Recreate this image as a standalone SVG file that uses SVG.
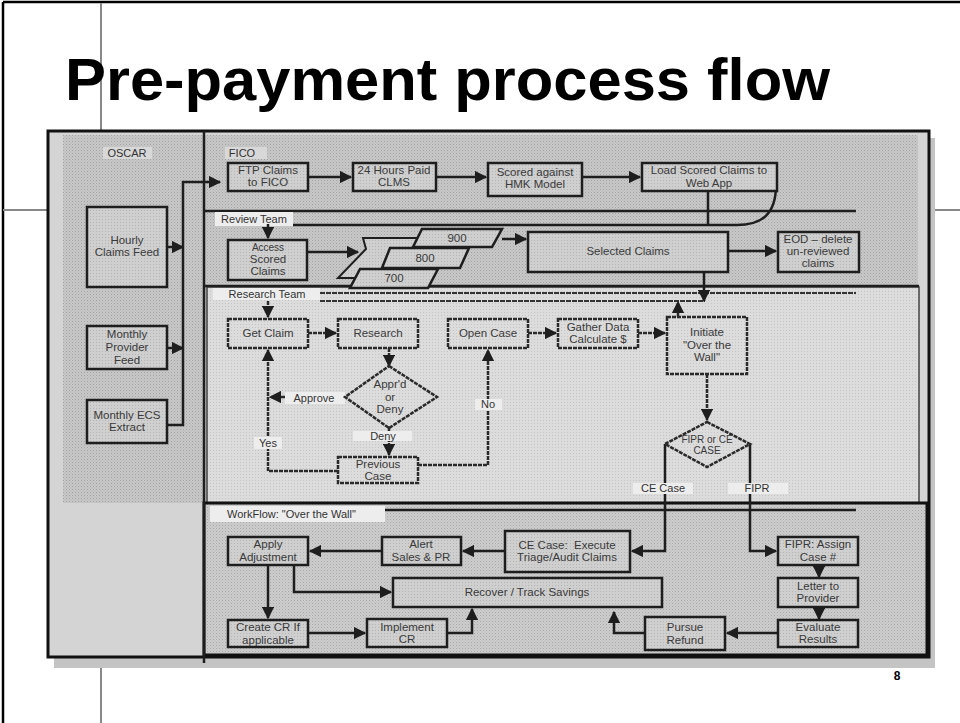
<svg xmlns="http://www.w3.org/2000/svg" width="960" height="723" viewBox="0 0 960 723">
<defs>
<pattern id="pDark" width="3" height="3" patternUnits="userSpaceOnUse"><rect width="3" height="3" fill="#c8c8c8"/><rect width="1" height="1" fill="#a2a2a2"/><rect x="1.5" y="1.5" width="1" height="1" fill="#b2b2b2"/></pattern>
<pattern id="pRes" width="3" height="3" patternUnits="userSpaceOnUse"><rect width="3" height="3" fill="#dcdcdc"/><rect width="1" height="1" fill="#c4c4c4"/></pattern>
<pattern id="pWork" width="3" height="3" patternUnits="userSpaceOnUse"><rect width="3" height="3" fill="#cdcdcd"/><rect width="1" height="1" fill="#a8a8a8"/><rect x="1.5" y="1.5" width="1" height="1" fill="#b8b8b8"/></pattern>
<pattern id="pBox" width="3" height="3" patternUnits="userSpaceOnUse"><rect width="3" height="3" fill="#cfcfcf"/><rect width="1" height="1" fill="#b4b4b4"/></pattern>
<marker id="ah" viewBox="0 0 10 10" refX="9" refY="5" markerWidth="5" markerHeight="5" orient="auto" markerUnits="strokeWidth"><path d="M0,0 L10,5 L0,10 z" fill="#1e1e1e"/></marker>
<style>
.t{font-family:"Liberation Sans",Arial,sans-serif;font-size:11.5px;fill:#3a3a3a;text-anchor:middle;dominant-baseline:central}
.lt{font-family:"Liberation Sans",Arial,sans-serif;font-size:11px;fill:#333;text-anchor:middle;dominant-baseline:central}
.box{fill:url(#pBox);stroke:#1e1e1e;stroke-width:2.5}
.dbox{fill:url(#pRes);stroke:#2a2a2a;stroke-width:2.5;stroke-dasharray:4 1}
.lbl{fill:#ededed}
.c{fill:none;stroke:#1e1e1e;stroke-width:2.5;marker-end:url(#ah)}
.cd{fill:none;stroke:#2a2a2a;stroke-width:2.5;stroke-dasharray:4 1;marker-end:url(#ah)}
.ln{fill:none;stroke:#1e1e1e;stroke-width:2.5}
.slide{stroke:#888;stroke-width:2;fill:none}
</style>
</defs>
<rect width="960" height="723" fill="#ffffff"/>
<g id="slide">
<path d="M3,2 L960,2 M3,2 L3,723" stroke="#000" stroke-width="2.5" fill="none"/>
<path class="slide" d="M101,3 L101,131 M101,668 L101,723 M3,210 L48,210 M935,210 L960,210"/>
<text x="65" y="100" font-family="Liberation Sans,Arial,sans-serif" font-weight="bold" font-size="60" textLength="765" lengthAdjust="spacingAndGlyphs" fill="#000">Pre-payment process flow</text>
<text x="897" y="680" font-family="Liberation Sans,Arial,sans-serif" font-weight="bold" font-size="12" fill="#000" text-anchor="middle">8</text>
</g>
<g id="frame">
<rect x="54" y="138" width="881" height="530" fill="#c4c4c4"/>
<rect x="48" y="131" width="881" height="526" fill="#d4d4d4"/>
<rect x="63" y="135" width="855" height="368" fill="url(#pDark)"/>
<rect x="207" y="287" width="712" height="216" fill="url(#pRes)" stroke="#444" stroke-width="1.5"/>
<rect x="204" y="503" width="723" height="152" fill="url(#pWork)" stroke="#111" stroke-width="3"/>
<rect x="48" y="131" width="881" height="526" fill="none" stroke="#111" stroke-width="3"/>
<path class="ln" d="M204,131 L204,663"/>
<path class="ln" d="M204,211 L856,211" stroke-width="2"/>
<path class="ln" d="M293,225 L737,225" stroke-width="2"/>
<path class="ln" d="M204,286 L919,286"/>
<path d="M320,293 L856,293" stroke="#333" stroke-width="2" stroke-dasharray="5 1" fill="none"/>
<path d="M320,301 L705,301" stroke="#333" stroke-width="2" stroke-dasharray="5 1" fill="none"/>
<path class="ln" d="M385,510 L856,510" stroke-width="2"/>
<rect x="103" y="147" width="49" height="12" fill="#d8d8d8"/><text class="lt" x="127" y="153">OSCAR</text>
<rect x="225" y="147" width="42" height="12" fill="#d8d8d8"/><text class="lt" x="242" y="153">FICO</text>
<rect class="lbl" x="215" y="212" width="78" height="14"/><text class="lt" x="254" y="219">Review Team</text>
<rect class="lbl" x="213" y="288" width="107" height="12"/><text class="lt" x="267" y="294">Research Team</text>
<rect class="lbl" x="210" y="506" width="175" height="16"/><text class="lt" x="227" y="514" style="text-anchor:start">WorkFlow: "Over the Wall"</text>
</g>
<g id="connectors">
<path class="c" d="M167,247 L183,247"/>
<path class="c" d="M167,348 L183,348"/>
<path class="c" d="M167,425 L183,425 L183,182 L220,182"/>
<path class="c" d="M308,177 L351,177"/>
<path class="c" d="M436,177 L486,177"/>
<path class="c" d="M582,177 L640,177"/>
<path class="ln" d="M708,191 L708,225 M776,185 C776,214 762,225 737,225" stroke-width="2"/>
<path class="c" d="M268,224 L268,238"/>
<path class="c" d="M307,252 L358,252"/>
<path class="c" d="M502,239 L526,239"/>
<path class="c" d="M728,251 L776,251"/>
<path class="c" d="M704,272 L704,301"/>
<path class="cd" d="M678,317 L678,302"/>
<path class="cd" d="M268,301 L268,317"/>
<path class="cd" d="M308,333 L336,333"/>
<path class="cd" d="M389,348 L389,366"/>
<path class="cd" d="M389,428 L389,455"/>
<path class="cd" d="M345,397 L270,397"/>
<path class="cd" d="M338,471 L268,471 L268,350"/>
<path class="cd" d="M418,465 L488,465 L488,350"/>
<path class="cd" d="M528,333 L556,333"/>
<path class="cd" d="M638,333 L665,333"/>
<path class="cd" d="M707,374 L707,420"/>
<path class="c" d="M665,444 L665,551 L632,551"/>
<path class="c" d="M750,444 L750,551 L776,551"/>
<path class="c" d="M505,551 L463,551"/>
<path class="c" d="M382,551 L310,551"/>
<path class="c" d="M268,565 L268,618"/>
<path class="c" d="M294,565 L294,592 L391,592"/>
<path class="c" d="M308,633 L365,633"/>
<path class="c" d="M447,633 L472,633 L472,609"/>
<path class="c" d="M645,633 L614,633 L614,612"/>
<path class="c" d="M778,633 L727,633"/>
<path class="c" d="M819,565 L819,577"/>
<path class="c" d="M819,607 L819,619"/>
<rect class="lbl" x="285" y="392" width="60" height="12"/><text class="lt" x="314" y="398">Approve</text>
<rect class="lbl" x="254" y="437" width="28" height="12"/><text class="lt" x="268" y="443">Yes</text>
<rect class="lbl" x="353" y="431" width="59" height="10"/><text class="lt" x="383" y="436">Deny</text>
<rect class="lbl" x="475" y="399" width="27" height="11"/><text class="lt" x="488" y="404">No</text>
<rect class="lbl" x="633" y="483" width="60" height="11"/><text class="lt" x="663" y="488">CE Case</text>
<rect class="lbl" x="728" y="483" width="60" height="11"/><text class="lt" x="757" y="488">FIPR</text>
</g>
<g id="hourly"><rect class="box" x="87" y="207" width="80" height="80"/><text class="t" x="127" y="240">Hourly</text><text class="t" x="127" y="252">Claims Feed</text></g>
<g id="monthlyProvider"><rect class="box" x="87" y="326" width="80" height="43"/><text class="t" x="127" y="334">Monthly</text><text class="t" x="127" y="347">Provider</text><text class="t" x="127" y="360">Feed</text></g>
<g id="monthlyECS"><rect class="box" x="87" y="400" width="80" height="43"/><text class="t" x="127" y="415">Monthly ECS</text><text class="t" x="127" y="427">Extract</text></g>
<g id="ftp"><rect class="box" x="228" y="163" width="80" height="28"/><text class="t" x="268" y="170">FTP Claims</text><text class="t" x="268" y="182">to FICO</text></g>
<g id="hours24"><rect class="box" x="353" y="163" width="83" height="28"/><text class="t" x="394" y="170">24 Hours Paid</text><text class="t" x="394" y="182">CLMS</text></g>
<g id="scored"><rect class="box" x="488" y="163" width="94" height="33"/><text class="t" x="535" y="172">Scored against</text><text class="t" x="535" y="184">HMK Model</text></g>
<g id="load"><rect class="box" x="642" y="163" width="135" height="28"/><text class="t" x="709" y="170">Load Scored Claims to</text><text class="t" x="709" y="183">Web App</text></g>
<g id="access"><rect class="box" x="228" y="240" width="79" height="40"/><text class="t" x="268" y="247" style="font-size:10px">Access</text><text class="t" x="268" y="259">Scored</text><text class="t" x="268" y="271">Claims</text></g>
<g id="stack">
<polygon points="363,238 420,238 400,288 352,288 356,278 338,278 366,249" fill="url(#pBox)"/>
<path d="M420,238 L363,238 L366,249 L338,278 L356,278" fill="none" stroke="#1e1e1e" stroke-width="2"/>
<polygon points="360,269 438,269 428,288 350,288" fill="url(#pBox)" stroke="#1e1e1e" stroke-width="2.5"/>
<polygon points="390,248 469,248 460,268 382,268" fill="url(#pBox)" stroke="#1e1e1e" stroke-width="2.5"/>
<polygon points="422,229 502,229 492,247 413,247" fill="url(#pBox)" stroke="#1e1e1e" stroke-width="2.5"/>
<text class="t" x="457" y="238">900</text><text class="t" x="425" y="258">800</text><text class="t" x="394" y="278">700</text>
</g>
<g id="selected"><rect class="box" x="528" y="232" width="200" height="40"/><text class="t" x="628" y="251">Selected Claims</text></g>
<g id="eod"><rect class="box" x="778" y="232" width="81" height="40"/><text class="t" x="818" y="239">EOD – delete</text><text class="t" x="818" y="251">un-reviewed</text><text class="t" x="818" y="263">claims</text></g>
<g id="getClaim"><rect class="dbox" x="228" y="319" width="80" height="29"/><text class="t" x="268" y="333">Get Claim</text></g>
<g id="research"><rect class="dbox" x="338" y="319" width="80" height="29"/><text class="t" x="378" y="333">Research</text></g>
<g id="openCase"><rect class="dbox" x="448" y="319" width="80" height="29"/><text class="t" x="488" y="333">Open Case</text></g>
<g id="gather"><rect class="dbox" x="558" y="319" width="80" height="29"/><text class="t" x="598" y="327">Gather Data</text><text class="t" x="598" y="339">Calculate $</text></g>
<g id="initiate"><rect class="dbox" x="667" y="317" width="80" height="57"/><text class="t" x="707" y="332">Initiate</text><text class="t" x="707" y="345">"Over the</text><text class="t" x="707" y="357">Wall"</text></g>
<g id="apprDeny"><polygon class="dbox" points="389,366 437,397 389,428 345,397"/><text class="t" x="390" y="384">Appr'd</text><text class="t" x="390" y="397">or</text><text class="t" x="390" y="409">Deny</text></g>
<g id="previous"><rect class="dbox" x="338" y="457" width="80" height="26"/><text class="t" x="378" y="464">Previous</text><text class="t" x="378" y="476">Case</text></g>
<g id="fiprCe"><polygon class="dbox" points="707,422 750,444 707,467 665,444"/><text class="t" x="707" y="439" style="font-size:10px">FIPR or CE</text><text class="t" x="707" y="450" style="font-size:10px">CASE</text></g>
<g id="apply"><rect class="box" x="228" y="537" width="80" height="28"/><text class="t" x="268" y="544">Apply</text><text class="t" x="268" y="557">Adjustment</text></g>
<g id="createCR"><rect class="box" x="228" y="620" width="80" height="27"/><text class="t" x="268" y="627">Create CR If</text><text class="t" x="268" y="640">applicable</text></g>
<g id="alert"><rect class="box" x="382" y="537" width="79" height="28"/><text class="t" x="421" y="544">Alert</text><text class="t" x="421" y="557">Sales &amp; PR</text></g>
<g id="ceCase"><rect class="box" x="505" y="531" width="125" height="41"/><text class="t" x="567" y="545" xml:space="preserve">CE Case:  Execute</text><text class="t" x="567" y="557">Triage/Audit Claims</text></g>
<g id="recover"><rect class="box" x="393" y="578" width="269" height="29"/><text class="t" x="527" y="592">Recover / Track Savings</text></g>
<g id="implement"><rect class="box" x="367" y="619" width="80" height="28"/><text class="t" x="407" y="627">Implement</text><text class="t" x="407" y="639">CR</text></g>
<g id="fipr"><rect class="box" x="778" y="537" width="80" height="28"/><text class="t" x="818" y="544">FIPR: Assign</text><text class="t" x="818" y="557">Case #</text></g>
<g id="letter"><rect class="box" x="778" y="578" width="80" height="29"/><text class="t" x="818" y="586">Letter to</text><text class="t" x="818" y="598">Provider</text></g>
<g id="evaluate"><rect class="box" x="778" y="620" width="80" height="27"/><text class="t" x="818" y="627">Evaluate</text><text class="t" x="818" y="639">Results</text></g>
<g id="pursue"><rect class="box" x="645" y="617" width="80" height="33"/><text class="t" x="685" y="627">Pursue</text><text class="t" x="685" y="640">Refund</text></g>
</svg>
